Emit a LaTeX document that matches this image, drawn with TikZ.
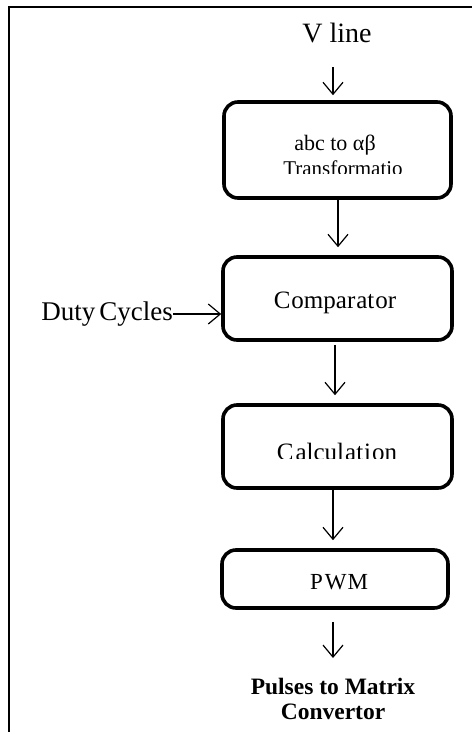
\documentclass[tikz,border=0pt]{standalone}
\usepackage{fontspec}
\setmainfont{Liberation Serif}
\usetikzlibrary{arrows.meta}
\begin{document}
\begin{tikzpicture}[x=1pt,y=-1pt,
  block/.style={draw, line width=3.6pt, rounded corners=14pt, inner sep=0pt},
  flow/.style={-{Straight Barb[length=12pt,width=20pt]}, line width=1.2pt},
  txt/.style={inner sep=0pt, font=\fontsize{#1}{#1}\selectfont},
  txt/.default=22]
\useasboundingbox (0,0) rectangle (472,732);
% partial frame: top and left edges
\draw[line width=2pt] (9,732) -- (9,7) -- (472,7);

% blocks
\node[block, minimum width=227pt, minimum height=96pt] (b1) at (337.5,150) {};
\node[block, minimum width=229pt, minimum height=83pt] (b2) at (337.5,298.5) {};
\node[block, minimum width=229pt, minimum height=83pt] (b3) at (337.5,446.5) {};
\node[block, minimum width=226pt, minimum height=58pt] (b4) at (335,579) {};

% block texts
\node[txt=22] (t1a) at (335,145) {abc to αβ};
\begin{scope}
  \clip (230,150) rectangle (445,173);
  \node[txt=21] (t1b) at (343,168) {Transformatio};
\end{scope}
\node[txt=25] (t2) at (335,303) {C\kern1pt ompar\kern1pt at\kern1pt or};
\begin{scope}
  \clip (230,430) rectangle (445,458);
  \node[txt=25] (t3) at (337,452) {C\kern2pt alcul\kern1pt at\kern1pt i\kern1pt on};
\end{scope}
\node[txt=23] (t4) at (339,582) {P\kern2pt W\kern1pt M};

% external signals
\node[txt=28] (vline) at (337,33) {V line};
\node[txt=27, anchor=east] (duty) at (173,314) {Duty\kern4pt Cycles};
\node[txt=23, font=\fontsize{23.5}{25}\selectfont\bfseries, align=center] (out) at (333,699)
  {Pulses to Matrix\\Convertor};

% connectors
\coordinate (vin) at (333,67);
\coordinate (pout) at (333,658);
\draw[flow] (vin) -- (vin |- b1.north) [shorten >=5pt];
\draw[flow, shorten >=8pt] ([xshift=0.5pt]b1.south) -- ([xshift=0.5pt]b2.north);
\draw[flow, shorten <=3pt, shorten >=8pt] ([xshift=-2.5pt]b2.south) -- ([xshift=-2.5pt]b3.north);
\draw[flow, shorten >=8pt] ([xshift=-4.5pt]b3.south) -- ([xshift=-2pt]b4.north);
\draw[flow, shorten <=12pt] ([xshift=-2pt]b4.south) -- (pout);
\draw[flow] (duty.east) -- (duty.east -| b2.west);
\end{tikzpicture}
\end{document}
